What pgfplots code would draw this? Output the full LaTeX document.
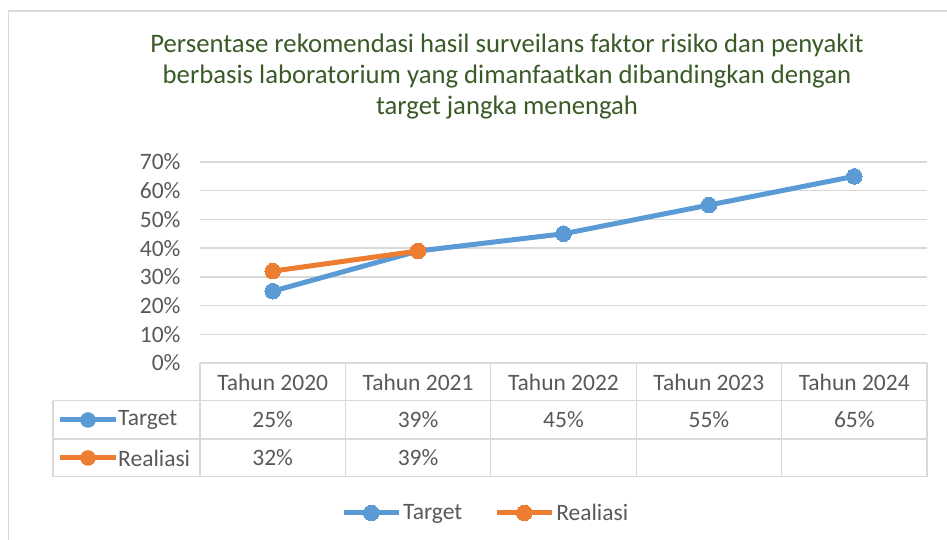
\documentclass[border=0pt]{standalone}
\usepackage{pgfplots}
\pgfplotsset{compat=1.18}
\usepackage{fontspec}
\setmainfont{Carlito}
\definecolor{cblue}{HTML}{5B9BD5}
\definecolor{corange}{HTML}{ED7D31}
\definecolor{ctext}{HTML}{595959}
\definecolor{cgrid}{HTML}{D9D9D9}
\definecolor{ctitle}{HTML}{3A5A27}
\begin{document}
\begin{tikzpicture}[x=1pt,y=1pt]
\useasboundingbox (0,0) rectangle (947,540);
% chart border
\draw[cgrid,line width=1.5pt] (8.5,0) -- (8.5,529) -- (948,529);
% title
\node[align=center,text=ctitle,font=\fontsize{26.7}{31}\selectfont] at (507,463)
  {Persentase rekomendasi hasil surveilans faktor risiko dan penyakit\\
   berbasis laboratorium yang dimanfaatkan dibandingkan dengan\\
   target jangka menengah};
\begin{axis}[
  at={(200pt,177pt)}, anchor=south west,
  width=727pt, height=201pt, scale only axis,
  xmin=-0.5, xmax=4.5, ymin=0, ymax=70,
  xtick=\empty,
  ytick={0,10,20,30,40,50,60,70},
  yticklabels={0\%,10\%,20\%,30\%,40\%,50\%,60\%,70\%},
  yticklabel style={text=ctext,font=\fontsize{23.5}{28}\selectfont,xshift=-16pt},
  major tick length=0pt,
  axis line style={draw=none},
  ymajorgrids, grid style={cgrid,line width=1.3pt},
  clip=false,
  legend columns=2,
  legend style={at={(0.393,-0.746)},anchor=center,draw=none,fill=none,
    font=\fontsize{23.5}{28}\selectfont,text=ctext,
    /tikz/every even column/.append style={column sep=30pt},
    inner sep=0pt, cells={anchor=west}},
  legend image code/.code={\draw[mark repeat=2,mark phase=2,#1]
     plot coordinates {(0pt,0pt) (27.5pt,0pt) (55pt,0pt)};},
]
\addplot[cblue,line width=5pt,mark=*,mark size=7.8pt,mark options={fill=cblue,draw=cblue,line width=0pt}]
  coordinates {(0,25) (1,39) (2,45) (3,55) (4,65)};
\addlegendentry{Target}
\addplot[corange,line width=5pt,mark=*,mark size=7.8pt,mark options={fill=corange,draw=corange,line width=0pt}]
  coordinates {(0,32) (1,39)};
\addlegendentry{Realiasi}
\end{axis}
% data table
\begin{scope}[cgrid,line width=1.3pt]
\draw (200,177) -- (927,177);
\draw (53,139.3) -- (927,139.3);
\draw (53,101) -- (927,101);
\draw (53,63.3) -- (927,63.3);
\draw (53,139.3) -- (53,63.3);
\foreach \x in {200,345.4,490.8,636.2,781.6,927} {\draw (\x,177) -- (\x,63.3);}
\end{scope}
\begin{scope}[font=\fontsize{23.5}{28}\selectfont,text=ctext]
\node at (272.7,158) {Tahun 2020};
\node at (418.1,158) {Tahun 2021};
\node at (563.5,158) {Tahun 2022};
\node at (708.9,158) {Tahun 2023};
\node at (854.3,158) {Tahun 2024};
\node at (272.7,120) {25\%};
\node at (418.1,120) {39\%};
\node at (563.5,120) {45\%};
\node at (708.9,120) {55\%};
\node at (854.3,120) {65\%};
\node at (272.7,82) {32\%};
\node at (418.1,82) {39\%};
\node[anchor=west,inner sep=0pt] at (118,120) {Target};
\node[anchor=west,inner sep=0pt] at (118,82) {Realiasi};
\end{scope}
\draw[cblue,line width=5pt] (60,120) -- (116,120);
\fill[cblue] (88,120) circle (7.8pt);
\draw[corange,line width=5pt] (60,82) -- (116,82);
\fill[corange] (88,82) circle (7.8pt);
\end{tikzpicture}
\end{document}
